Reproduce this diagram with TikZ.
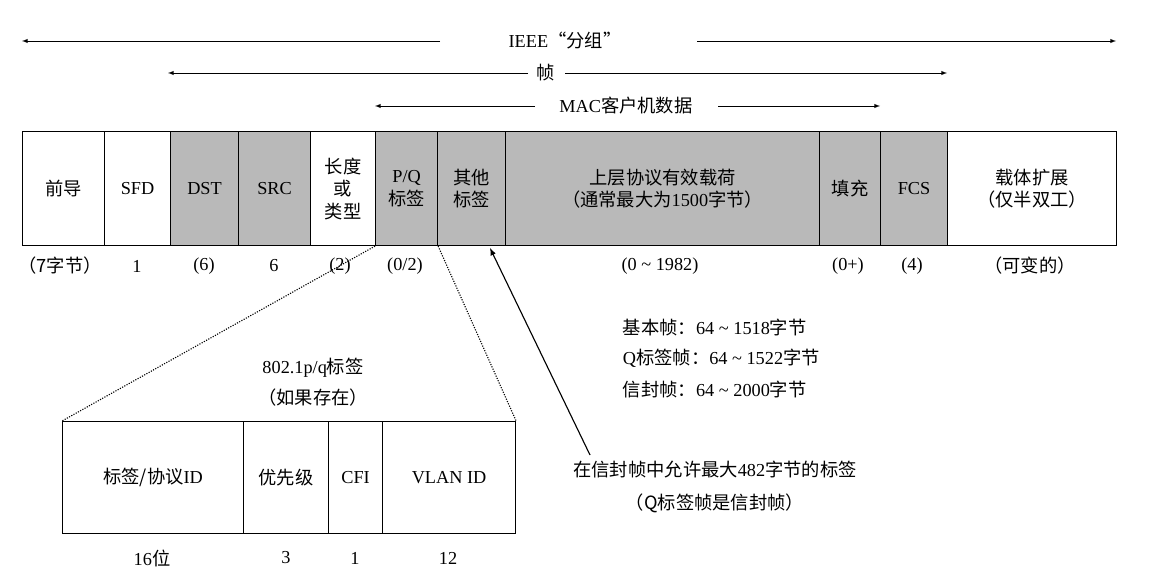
\documentclass[tikz,border=0pt]{standalone}
\usepackage{fontspec}
\setmainfont{Liberation Serif}
\newfontfamily\cjk{Noto Sans CJK SC}
\newcommand{\zh}[1]{{\cjk #1}}
\begin{document}
\begin{tikzpicture}[x=0.025cm,y=-0.025cm,
  cell/.style={draw,thick,minimum height=2.85cm,anchor=north west,inner sep=0pt,align=center},
  gcell/.style={cell,fill=gray!55},
  lbl/.style={font=\fontsize{13}{16}\selectfont,align=center},
  arr/.style={-latex,thin},
  dotl/.style={densely dotted,thick}]
\useasboundingbox (0,0) rectangle (1152,582);
\tikzset{every node/.append style={font=\fontsize{13}{16}\selectfont}}
% main frame cells
\node[cell,minimum width=82*0.025cm] (c1) at (22,131) {\zh{前导}};
\node[cell,minimum width=66*0.025cm] (c2) at (104,131) {SFD};
\node[gcell,minimum width=68*0.025cm] (c3) at (170,131) {DST};
\node[gcell,minimum width=72*0.025cm] (c4) at (238,131) {SRC};
\node[cell,minimum width=65*0.025cm] (c5) at (310,131) {\zh{长度}\\\zh{或}\\\zh{类型}};
\node[gcell,minimum width=62*0.025cm] (c6) at (375,131) {P/Q\\\zh{标签}};
\node[gcell,minimum width=68*0.025cm] (c7) at (437,131) {\zh{其他}\\\zh{标签}};
\node[gcell,minimum width=314*0.025cm] (c8) at (505,131) {\zh{上层协议有效载荷}\\\zh{（通常最大为}1500\zh{字节）}};
\node[gcell,minimum width=61*0.025cm] (c9) at (819,131) {\zh{填充}};
\node[gcell,minimum width=67*0.025cm] (c10) at (880,131) {FCS};
\node[cell,minimum width=169*0.025cm] (c11) at (947,131) {\zh{载体扩展}\\\zh{（仅半双工）}};
% sizes
\node (s1) at (60,266) {\zh{（7字节）}};
\node (s2) at (137,266) {1};
\node (s3) at (204,266) {(6)};
\node (s4) at (274,266) {6};
\node (s5) at (340,266) {(2)};
\node (s6) at (405,266) {(0/2)};
\node (s8) at (660,266) {(0 \textasciitilde{} 1982)};
\node (s9) at (848,266) {(0+)};
\node (s10) at (912,266) {(4)};
\node (s11) at (1030,266) {\zh{（可变的）}};
% top arrows
\node (t1) at (565,41) {IEEE\zh{“分组”}};
\coordinate (a1l) at (22,41); \coordinate (a1r) at (1116,41);
\draw[arr] (440,41) -- (a1l); \draw[arr] (697,41) -- (a1r);
\node (t2) at (546,73) {\zh{帧}};
\coordinate (a2l) at (168,73); \coordinate (a2r) at (947,73);
\draw[arr] (528,73) -- (a2l); \draw[arr] (565,73) -- (a2r);
\node (t3) at (626,106) {MAC\zh{客户机数据}};
\coordinate (a3l) at (375,106); \coordinate (a3r) at (880,106);
\draw[arr] (535,106) -- (a3l); \draw[arr] (718,106) -- (a3r);
% lower box
\node[cell,minimum height=2.8cm,minimum width=181*0.025cm] (b1) at (62,421) {\zh{标签/协议}ID};
\node[cell,minimum height=2.8cm,minimum width=85*0.025cm] (b2) at (243,421) {\zh{优先级}};
\node[cell,minimum height=2.8cm,minimum width=54*0.025cm] (b3) at (328,421) {CFI};
\node[cell,minimum height=2.8cm,minimum width=133*0.025cm] (b4) at (382,421) {VLAN ID};
\node (n1) at (152,558) {16\zh{位}};
\node (n2) at (286,558) {3};
\node (n3) at (355,558) {1};
\node (n4) at (448,558) {12};
\draw[dotl] (c6.south west) -- (b1.north west);
\draw[dotl] (c6.south east) -- (b4.north east);
\node (q1) at (313,368) {802.1p/q\zh{标签}};
\node (q2) at (313,398) {\zh{（如果存在）}};
% arrow to other tags
\coordinate (ap) at (590,455);
\coordinate (ah) at (490,248);
\draw[arr,thick] (ap) -- (ah);
\node (e1) at (715,470) {\zh{在信封帧中允许最大}482\zh{字节的标签}};
\node (e2) at (715,503) {\zh{（Q标签帧是信封帧）}};
\node[anchor=west] (r1) at (618,328) {\zh{基本帧：}64 \textasciitilde{} 1518\zh{字节}};
\node[anchor=west] (r2) at (618,358) {Q\zh{标签帧：}64 \textasciitilde{} 1522\zh{字节}};
\node[anchor=west] (r3) at (618,390) {\zh{信封帧：}64 \textasciitilde{} 2000\zh{字节}};
\end{tikzpicture}
\end{document}
